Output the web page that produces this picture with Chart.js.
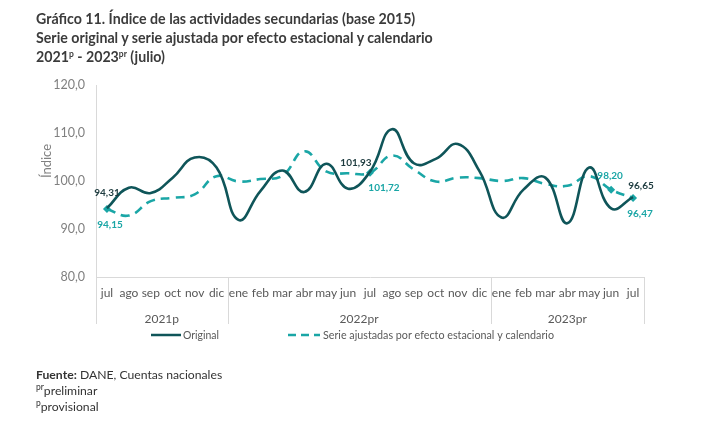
<!DOCTYPE html>
<html lang="es">
<head>
<meta charset="utf-8">
<title>Gráfico 11. Índice de las actividades secundarias</title>
<script src="https://cdn.jsdelivr.net/npm/chart.js@4.4.0/dist/chart.umd.min.js"></script>
<style>
  html, body { margin: 0; padding: 0; background: #fff; }
  #page { position: relative; width: 720px; height: 428px; overflow: hidden; font-family: Lato, "Open Sans", sans-serif; }
  #chart { position: absolute; left: 0; top: 0; }
  .title { position: absolute; left: 36px; top: 9px; font-weight: 700; font-size: 14.2px; line-height: 19px; color: #3b3b3b; white-space: nowrap; }
  .title sup, .notes sup { font-size: 8.5px; line-height: 0; vertical-align: 5px; }
  .notes { position: absolute; left: 36px; top: 367px; font-size: 12.2px; line-height: 16px; color: #333; white-space: nowrap; }
</style>
</head>
<body>
<div id="page">
  <canvas id="chart" width="720" height="428"></canvas>
  <div class="title">
    Gráfico 11. Índice de las actividades secundarias (base 2015)<br>
    Serie original y serie ajustada por efecto estacional y calendario<br>
    2021<sup>p</sup> - 2023<sup>pr</sup> (julio)
  </div>
  <div class="notes">
    <b>Fuente:</b> DANE, Cuentas nacionales<br>
    <sup>pr</sup>preliminar<br>
    <sup>p</sup>provisional
  </div>
</div>
<script>
// ===== DATA =====
const months = ['jul', 'ago', 'sep', 'oct', 'nov', 'dic',
  'ene', 'feb', 'mar', 'abr', 'may', 'jun', 'jul', 'ago', 'sep', 'oct', 'nov', 'dic',
  'ene', 'feb', 'mar', 'abr', 'may', 'jun', 'jul'];
const yearLabels = ['2021p', '2022pr', '2023pr'];
const yearStarts = [0, 6, 18];
const yearEnds = [5, 17, 24];

const original = [94.31, 98.6, 97.5, 100.7, 104.9, 102.8,
  91.9, 97.9, 102.2, 97.7, 103.6, 98.4, 101.93, 110.8, 103.7, 104.6, 107.7, 102.0,
  92.4, 98.2, 100.7, 91.2, 102.8, 94.3, 96.65];
const adjusted = [94.15, 92.8, 95.8, 96.5, 97.2, 101.0,
  99.9, 100.4, 101.1, 106.2, 102.0, 101.6, 101.72, 105.3, 102.4, 99.9, 100.7, 100.6,
  100.0, 100.6, 99.4, 99.0, 101.0, 98.20, 96.47];

const yTicks = [80, 90, 100, 110, 120];

// points that carry a value label (index into the series)
const originalLabelled = [0, 12, 24];
const adjustedLabelled = [0, 12, 23, 24];

// ===== STYLE =====
const COLORS = {
  original: '#0f5559',
  adjusted: '#1aa6a6',
  axis: '#d9d9d9',
  tick: '#808080',
  text: '#595959'
};

// label offsets (dx, dy) from the point, same order as the *Labelled arrays
const originalOffsets = [[0, -16], [-14, -9], [8, -11]];
const adjustedOffsets = [[3, 16], [14, 15], [-1, -14], [7, 16]];

const fmt = (v, d) => v.toFixed(d).replace('.', ',');

/**
 * Draws the extras Excel had that Chart.js does not: year groups,
 * the rotated axis title, the legend and the point value labels.
 */
const extrasPlugin = {
  id: 'extras',
  afterDatasetsDraw(chart) {
    const ctx = chart.ctx;
    const x = chart.scales.x;
    const area = chart.chartArea;

    ctx.save();

    // value labels
    ctx.font = 'bold 10px Lato, "Open Sans", sans-serif';
    ctx.textAlign = 'center';
    ctx.textBaseline = 'middle';
    const drawLabels = (dsIndex, idxs, offs, color, values) => {
      const meta = chart.getDatasetMeta(dsIndex);
      ctx.fillStyle = color;
      idxs.forEach((i, k) => {
        const p = meta.data[i];
        ctx.fillText(fmt(values[i], 2), p.x + offs[k][0], p.y + offs[k][1]);
      });
    };
    drawLabels(0, originalLabelled, originalOffsets, '#1d3b3f', original);
    drawLabels(1, adjustedLabelled, adjustedOffsets, COLORS.adjusted, adjusted);

    // year group separators and labels
    const half = (x.getPixelForValue(1) - x.getPixelForValue(0)) / 2;
    const lineBottom = area.bottom + 47;
    ctx.strokeStyle = COLORS.axis;
    ctx.lineWidth = 1;
    const edges = [x.getPixelForValue(0) - half];
    yearEnds.forEach(e => edges.push(x.getPixelForValue(e) + half));
    edges.forEach(px => {
      ctx.beginPath();
      ctx.moveTo(Math.round(px) + 0.5, area.bottom);
      ctx.lineTo(Math.round(px) + 0.5, lineBottom);
      ctx.stroke();
    });
    ctx.fillStyle = COLORS.text;
    ctx.font = '12px Lato, "Open Sans", sans-serif';
    yearLabels.forEach((lbl, k) => {
      const cx = (x.getPixelForValue(yearStarts[k]) + x.getPixelForValue(yearEnds[k])) / 2;
      ctx.fillText(lbl, cx, area.bottom + 42);
    });

    // y axis title
    ctx.save();
    ctx.translate(47, 161);
    ctx.rotate(-Math.PI / 2);
    ctx.fillStyle = COLORS.tick;
    ctx.font = '13px Lato, "Open Sans", sans-serif';
    ctx.fillText('Índice', 0, 0);
    ctx.restore();

    // legend
    const ly = 335;
    ctx.lineWidth = 2.5;
    ctx.strokeStyle = COLORS.original;
    ctx.beginPath();
    ctx.moveTo(151, ly);
    ctx.lineTo(181, ly);
    ctx.stroke();
    ctx.strokeStyle = COLORS.adjusted;
    ctx.setLineDash([8, 5]);
    ctx.beginPath();
    ctx.moveTo(288, ly);
    ctx.lineTo(320, ly);
    ctx.stroke();
    ctx.setLineDash([]);
    ctx.textAlign = 'left';
    ctx.fillStyle = COLORS.text;
    ctx.font = '12px Lato, "Open Sans", sans-serif';
    ctx.fillText('Original', 183, ly, 36);
    ctx.fillText('Serie ajustadas por efecto estacional y calendario', 323, ly, 231);

    ctx.restore();
  }
};

new Chart(document.getElementById('chart'), {
  type: 'line',
  data: {
    labels: months,
    datasets: [{
      label: 'Original',
      data: original,
      borderColor: COLORS.original,
      backgroundColor: COLORS.original,
      borderWidth: 2.6,
      tension: 0.45,
      pointRadius: 0
    }, {
      label: 'Serie ajustadas por efecto estacional y calendario',
      data: adjusted,
      borderColor: COLORS.adjusted,
      backgroundColor: COLORS.adjusted,
      borderWidth: 2.6,
      borderDash: [9, 6],
      tension: 0.45,
      pointStyle: 'rectRot',
      pointRadius: adjusted.map((_, i) => adjustedLabelled.includes(i) ? 4 : 0),
      pointBorderWidth: 0
    }]
  },
  options: {
    responsive: false,
    animation: false,
    devicePixelRatio: 1,
    layout: { padding: { top: 85, right: 76, bottom: 121, left: 0 } },
    plugins: {
      legend: { display: false },
      tooltip: { enabled: false }
    },
    scales: {
      x: {
        offset: true,
        afterFit: s => { s.height = 30; },
        grid: { display: false, offset: true, drawTicks: false },
        border: { display: true, color: COLORS.axis, width: 1 },
        ticks: {
          color: COLORS.text,
          font: { family: 'Lato, "Open Sans", sans-serif', size: 12 },
          padding: 9,
          maxRotation: 0,
          autoSkip: false
        }
      },
      y: {
        min: yTicks[0],
        max: yTicks[yTicks.length - 1],
        afterFit: s => { s.width = 96; },
        afterBuildTicks: s => { s.ticks = yTicks.map(v => ({ value: v })); },
        grid: { display: false, drawTicks: false },
        border: { display: true, color: COLORS.axis, width: 1 },
        ticks: {
          color: COLORS.tick,
          font: { family: 'Lato, "Open Sans", sans-serif', size: 12.5 },
          padding: 11,
          callback: v => fmt(v, 1)
        }
      }
    }
  },
  plugins: [extrasPlugin]
});
</script>
</body>
</html>
